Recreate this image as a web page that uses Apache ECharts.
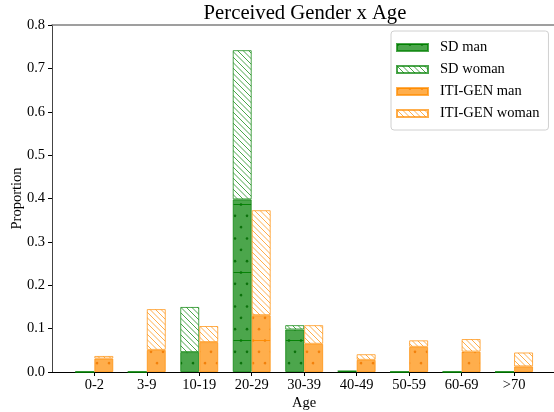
<!DOCTYPE html>
<html>
<head>
<meta charset="utf-8">
<script src="https://cdn.jsdelivr.net/npm/echarts@6/dist/echarts.min.js"></script>
<style>html,body{margin:0;padding:0;background:#fff}#c{width:554px;height:412px}</style>
</head>
<body>
<div id="c"></div>
<script>
var categories = ['0-2', '3-9', '10-19', '20-29', '30-39', '40-49', '50-59', '60-69', '>70'];
var sdMan      = [0.000, 0.000, 0.046, 0.398, 0.098, 0.002, 0.000, 0.000, 0.000];
var sdWoman    = [0.000, 0.000, 0.104, 0.344, 0.010, 0.000, 0.000, 0.000, 0.000];
var itiMan     = [0.031, 0.051, 0.069, 0.131, 0.065, 0.028, 0.058, 0.047, 0.013];
var itiWoman   = [0.006, 0.094, 0.037, 0.242, 0.043, 0.013, 0.015, 0.029, 0.032];

var FONT = 'Liberation Serif, Times New Roman, serif';
var GREEN = 'rgba(0,128,0,0.7)', ORANGE = 'rgba(255,140,0,0.7)';

function dotPattern(fill, dot, line) {
  var c = document.createElement('canvas');
  c.width = 12; c.height = 68;
  var g = c.getContext('2d');
  g.fillStyle = '#fff'; g.fillRect(0, 0, 12, 68);
  g.fillStyle = fill; g.fillRect(0, 0, 12, 68);
  g.fillStyle = dot;
  for (var r = 0; r < 6; r++) {
    var y = r * 68 / 6 + 0.5;
    var xs = (r % 2 === 0) ? [1, 13] : [7];
    xs.forEach(function (x) { g.beginPath(); g.arc(x, y, 1.3, 0, Math.PI * 2); g.fill(); });
    if (r === 0) { g.beginPath(); g.arc(-11, y, 1.3, 0, Math.PI * 2); g.fill(); g.beginPath(); g.arc(1, y + 68, 1.3, 0, Math.PI * 2); g.fill(); }
  }
  g.fillStyle = line; g.fillRect(0, 0, 12, 1);
  return { image: c, repeat: 'repeat' };
}
function hatchPattern(col) {
  var s = 11;
  var c = document.createElement('canvas');
  c.width = s; c.height = s;
  var g = c.getContext('2d');
  g.fillStyle = '#fff'; g.fillRect(0, 0, s, s);
  g.strokeStyle = col; g.lineWidth = 1;
  [-s, -s / 2, 0, s / 2, s].forEach(function (o) {
    g.beginPath(); g.moveTo(o, 0); g.lineTo(o + s, s); g.stroke();
  });
  return { image: c, repeat: 'repeat' };
}

var chart = echarts.init(document.getElementById('c'), null, { renderer: 'canvas' });
var axisFont = { fontFamily: FONT, fontSize: 14.5, color: '#000' };

chart.setOption({
  animation: false,
  title: { text: 'Perceived Gender x Age', left: 300, top: -2, textAlign: 'center',
    textStyle: { fontFamily: FONT, fontSize: 20.7, fontWeight: 'normal', color: '#000' } },
  grid: [
    { left: 52, right: 0, top: 25, bottom: 40, outerBoundsMode: 'none', containLabel: false },
    { left: 68.07, right: 13.7, top: 25, bottom: 40, outerBoundsMode: 'none', containLabel: false }
  ],
  legend: {
    left: 391, top: 31, orient: 'vertical',
    itemWidth: 31, itemHeight: 7, itemGap: 7,
    padding: [9, 9, 9, 5],
    borderColor: '#d0d0d0', borderWidth: 1, borderRadius: 3, backgroundColor: '#fff',
    textStyle: { fontFamily: FONT, fontSize: 14.5, color: '#000', padding: [0, 0, 0, 7] },
    data: [{name:'SD man', icon:'rect'}, {name:'SD woman', icon:'rect'}, {name:'ITI-GEN man', icon:'rect'}, {name:'ITI-GEN woman', icon:'rect'}]
  },
  xAxis: [{
    gridIndex: 0, type: 'value', min: 0, max: 1, position: 'bottom',
    splitLine: { show: false }, axisTick: { show: false }, axisLabel: { show: false },
    axisLine: { show: true, onZero: false, lineStyle: { color: '#000', width: 1 } }
  }, {
    gridIndex: 0, type: 'value', min: 0, max: 1, position: 'top',
    splitLine: { show: false }, axisTick: { show: false }, axisLabel: { show: false },
    axisLine: { show: true, onZero: false, lineStyle: { color: '#808080', width: 1.5 } }
  }, {
    gridIndex: 1, type: 'category', data: categories, boundaryGap: true,
    name: 'Age', nameLocation: 'middle', nameGap: 24, nameMoveOverlap: false, nameTextStyle: axisFont,
    axisLine: { show: false, onZero: false },
    axisTick: { show: true, alignWithLabel: true, length: 4, lineStyle: { color: '#000' } },
    axisLabel: { margin: 6, interval: 0, fontFamily: FONT, fontSize: 14.5, color: '#000' }
  }],
  yAxis: [{
    gridIndex: 0, type: 'value', min: 0, max: 0.8, interval: 0.1,
    name: 'Proportion', nameLocation: 'middle', nameGap: 27, nameMoveOverlap: false, nameTextStyle: axisFont,
    splitLine: { show: false },
    axisLine: { show: true, onZero: false, lineStyle: { color: '#444', width: 1 } },
    axisTick: { show: true, length: 4, lineStyle: { color: '#000' } },
    axisLabel: { margin: 7, formatter: function (v) { return v.toFixed(1); }, fontFamily: FONT, fontSize: 14.5, color: '#000' }
  }, {
    gridIndex: 1, type: 'value', min: 0, max: 0.8, interval: 0.1,
    axisLine: { show: false }, axisTick: { show: false }, axisLabel: { show: false }, splitLine: { show: false }
  }],
  series: [
    { name: 'SD man', type: 'bar', xAxisIndex: 2, yAxisIndex: 1, stack: 'sd', barWidth: 19, barGap: '0%', data: sdMan,
      itemStyle: { color: dotPattern(GREEN, 'rgba(0,105,0,0.85)', 'rgba(0,128,0,0.9)'), borderColor: GREEN, borderWidth: 1 } },
    { name: 'SD woman', type: 'bar', xAxisIndex: 2, yAxisIndex: 1, stack: 'sd', barWidth: 19, barGap: '0%', data: sdWoman,
      itemStyle: { color: hatchPattern(GREEN), borderColor: GREEN, borderWidth: 1 } },
    { name: 'ITI-GEN man', type: 'bar', xAxisIndex: 2, yAxisIndex: 1, stack: 'iti', barWidth: 19, barGap: '0%', data: itiMan,
      itemStyle: { color: dotPattern(ORANGE, 'rgba(240,120,0,0.85)', 'rgba(255,140,0,0.9)'), borderColor: ORANGE, borderWidth: 1 } },
    { name: 'ITI-GEN woman', type: 'bar', xAxisIndex: 2, yAxisIndex: 1, stack: 'iti', barWidth: 19, barGap: '0%', data: itiWoman,
      itemStyle: { color: hatchPattern(ORANGE), borderColor: ORANGE, borderWidth: 1 } }
  ]
});
</script>
</body>
</html>
